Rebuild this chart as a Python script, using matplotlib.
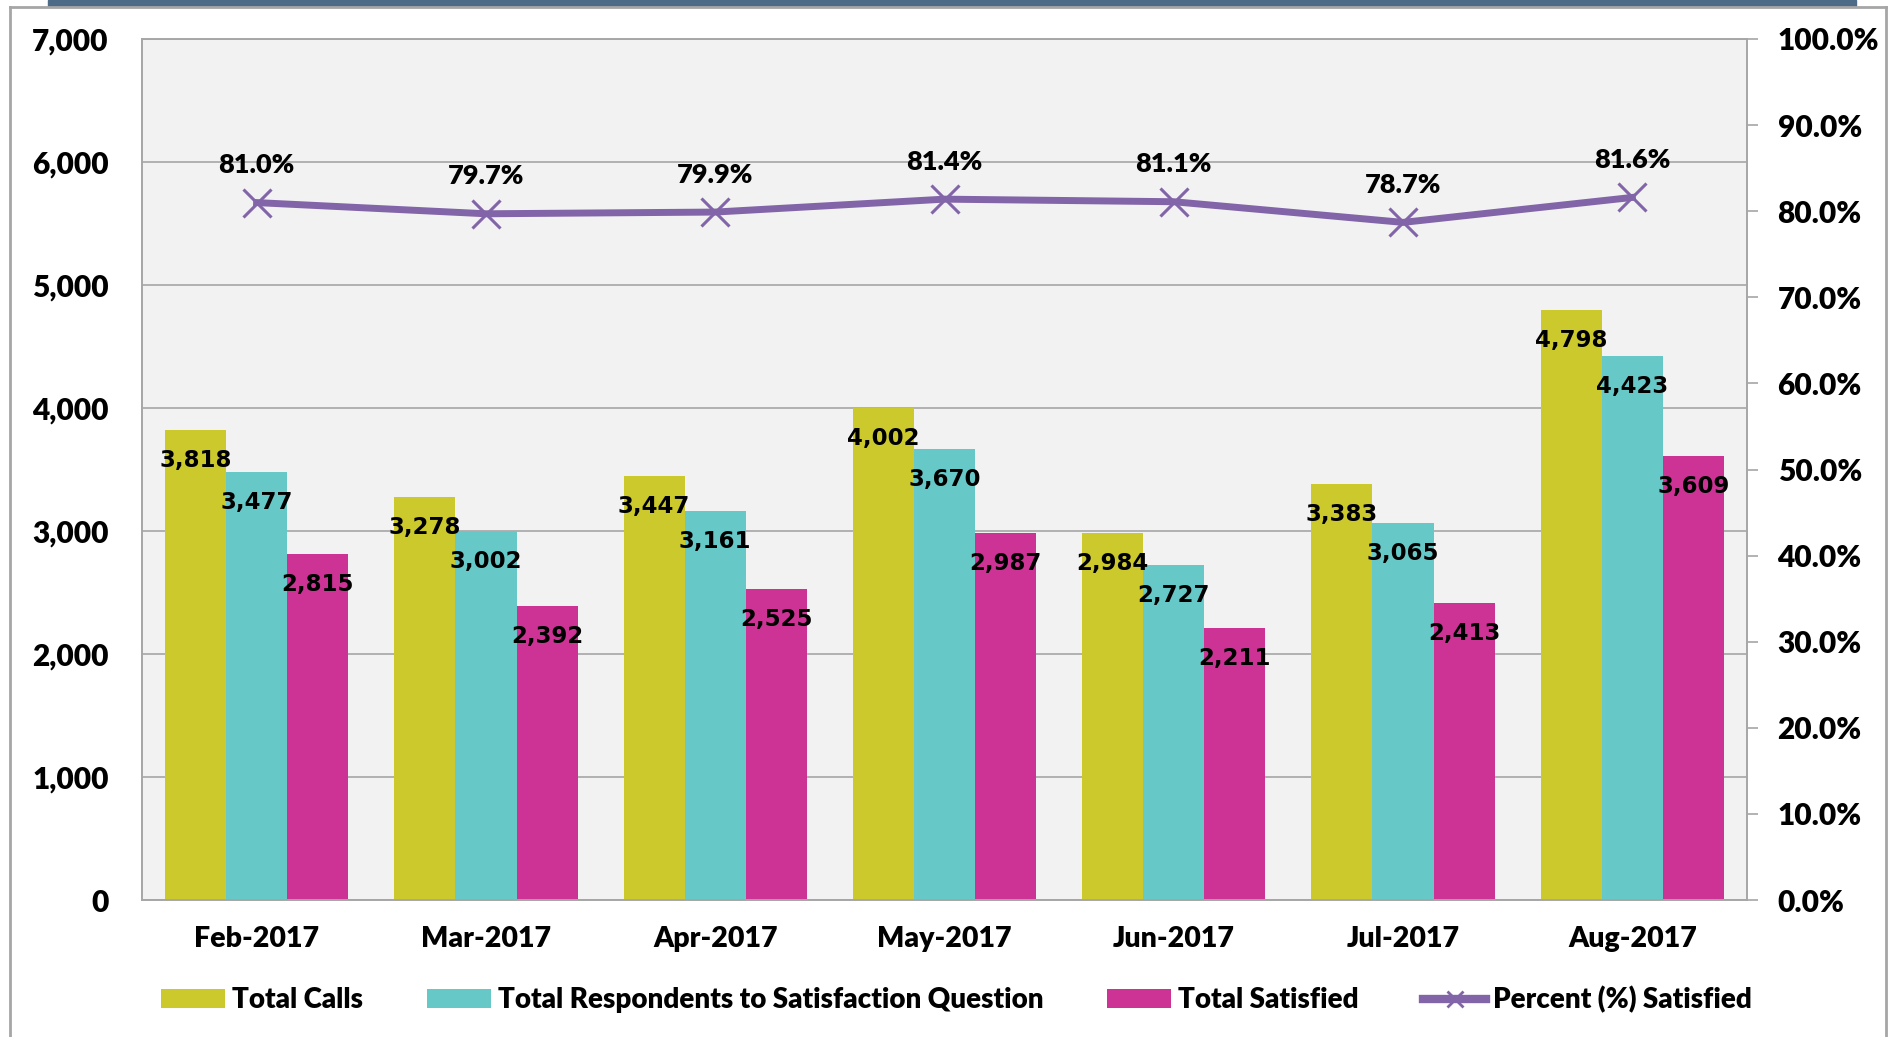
import matplotlib.pyplot as plt
import numpy as np
from matplotlib.patches import Rectangle
from matplotlib.lines import Line2D
from matplotlib.ticker import FuncFormatter

months = ['Feb-2017', 'Mar-2017', 'Apr-2017', 'May-2017', 'Jun-2017', 'Jul-2017', 'Aug-2017']
total_calls = [3818, 3278, 3447, 4002, 2984, 3383, 4798]
respondents = [3477, 3002, 3161, 3670, 2727, 3065, 4423]
satisfied = [2815, 2392, 2525, 2987, 2211, 2413, 3609]
pct_satisfied = [81.0, 79.7, 79.9, 81.4, 81.1, 78.7, 81.6]

series_names = ['Total Calls', 'Total Respondents to Satisfaction Question', 'Total Satisfied']
line_name = 'Percent (%) Satisfied'

c_yellow = '#cbc92c'
c_cyan = '#66c9c8'
c_magenta = '#cc3394'
c_purple = '#8264a8'
c_grid = '#a6a6a6'

plt.rcParams['font.family'] = ['Lato', 'DejaVu Sans']

fig = plt.figure(figsize=(19.02, 10.37), dpi=100)
ax = fig.add_axes([142 / 1902, 1 - 900 / 1037, (1747 - 142) / 1902, (900 - 39) / 1037])
ax.set_facecolor('#f2f2f2')

x = np.arange(len(months))
w = 0.8 / 3
for i, (vals, col) in enumerate(zip([total_calls, respondents, satisfied], [c_yellow, c_cyan, c_magenta])):
    pos = x + (i - 1) * w
    ax.bar(pos, vals, width=w, color=col, label=series_names[i], zorder=2)
    for px, v in zip(pos, vals):
        ax.annotate(f'{v:,}', (px, v), xytext=(0, -22), textcoords='offset points',
                    ha='center', va='center', fontsize=16.5, fontweight='bold',
                    family='DejaVu Sans', zorder=5)

ax.set_ylim(0, 7000)
ax.set_xlim(-0.5, len(months) - 0.5)
ax.set_yticks(range(0, 7001, 1000))
ax.yaxis.set_major_formatter(FuncFormatter(lambda v, p: f'{int(v):,}'))
ax.grid(axis='y', color=c_grid, linewidth=1.2, zorder=0)
ax.set_axisbelow(True)
ax.set_xticks(x)
ax.set_xticklabels(months)
ax.tick_params(axis='x', length=0, pad=19, labelsize=20.5)
ax.tick_params(axis='y', length=0, pad=24, labelsize=21.5)
for lab in ax.get_xticklabels() + ax.get_yticklabels():
    lab.set_fontweight('heavy')
for s in ['top', 'bottom', 'left', 'right']:
    ax.spines[s].set_color(c_grid)
    ax.spines[s].set_linewidth(1.2)

ax2 = ax.twinx()
ax2.plot(x, pct_satisfied, color=c_purple, linewidth=5, marker='x', markersize=20,
         markeredgewidth=2.2, label=line_name, zorder=4)
for px, v in zip(x, pct_satisfied):
    ax2.annotate(f'{v:.1f}%', (px, v), xytext=(0, 27), textcoords='offset points',
                 ha='center', va='center', fontsize=19.5, fontweight='heavy')
ax2.set_ylim(0, 100)
ax2.set_yticks(range(0, 101, 10))
ax2.yaxis.set_major_formatter(FuncFormatter(lambda v, p: f'{v:.1f}%'))
ax2.tick_params(axis='y', length=8, width=1.2, color=c_grid, pad=14, labelsize=21.5)
for lab in ax2.get_yticklabels():
    lab.set_fontweight('heavy')
for s in ['top', 'bottom', 'left', 'right']:
    ax2.spines[s].set_color(c_grid)
    ax2.spines[s].set_linewidth(1.2)

h1, l1 = ax.get_legend_handles_labels()
h2 = [Line2D([0], [0], color=c_purple, linewidth=6, marker='x', markersize=12, markeredgewidth=2)]
leg = fig.legend(h1 + h2, l1 + [line_name], loc='center', bbox_to_anchor=(0.503, 0.036), ncol=4,
                 frameon=False, fontsize=20, handlelength=2.3, handletextpad=0.25,
                 columnspacing=2.3)
for t in leg.get_texts():
    t.set_fontweight('heavy')

# outer frame and top banner
fig.add_artist(Line2D([10 / 1902, 10 / 1902], [0, 1 - 7 / 1037], color='#a6a6a6', linewidth=2))
fig.add_artist(Line2D([10 / 1902, 1886 / 1902], [1 - 7 / 1037, 1 - 7 / 1037], color='#a6a6a6', linewidth=2))
fig.add_artist(Line2D([1886 / 1902, 1886 / 1902], [0, 1 - 7 / 1037], color='#a6a6a6', linewidth=2))
fig.add_artist(Rectangle((48 / 1902, 1 - 6 / 1037), (1856 - 48) / 1902, 6 / 1037,
                         transform=fig.transFigure, color='#4d6a87'))

plt.savefig('out.png')
